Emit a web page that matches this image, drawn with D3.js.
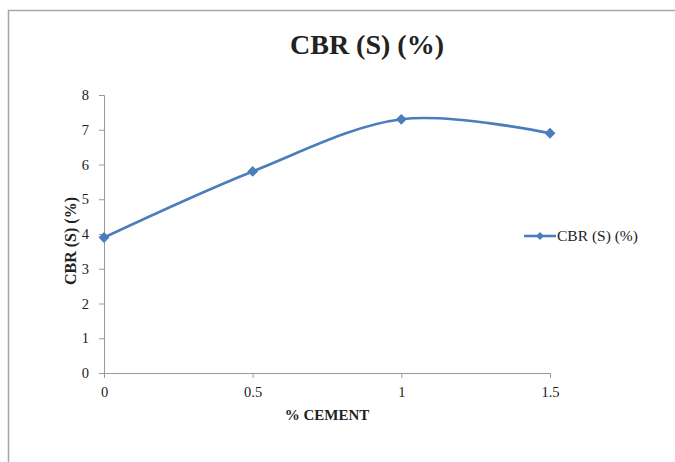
<!DOCTYPE html>
<html>
<head>
<meta charset="utf-8">
<script src="https://cdn.jsdelivr.net/npm/d3@7"></script>
<style>
  html, body { margin: 0; padding: 0; background: #fff; }
  svg { display: block; }
  svg text { font-family: "Liberation Serif", "Times New Roman", serif !important; fill: #222; }
</style>
</head>
<body>
<svg id="chart" width="675" height="462"></svg>
<script>
// Cement content (%) and soaked CBR values (%)
const cementPct = [0, 0.5, 1, 1.5];
const cbrValues = [3.9, 5.8, 7.3, 6.9];
const xTicks = [0, 0.5, 1, 1.5];
const yTicks = [0, 1, 2, 3, 4, 5, 6, 7, 8];
const seriesName = "CBR (S) (%)";
const chartTitle = "CBR (S) (%)";
const xTitle = "% CEMENT";
const yTitle = "CBR (S) (%)";

const data = cementPct.map((c, i) => ({ x: c, y: cbrValues[i] }));
const blue = "#4a7ebb";

const svg = d3.select("#chart");

// outer chart frame
svg.append("rect")
  .attr("x", 8.5).attr("y", 10.5)
  .attr("width", 680).attr("height", 470)
  .attr("fill", "#fff")
  .attr("stroke", "#a6a6a6").attr("stroke-width", 1.5);

const plot = { left: 104, right: 550, top: 95, bottom: 373 };

const x = d3.scaleLinear().domain([0, 1.5]).range([plot.left, plot.right]);
const y = d3.scaleLinear().domain([0, 8]).range([plot.bottom, plot.top]);

// x axis
const xAxis = svg.append("g")
  .attr("transform", `translate(0,${plot.bottom})`)
  .call(d3.axisBottom(x).tickValues(xTicks).tickFormat(d3.format("")).tickSize(5).tickPadding(9));
xAxis.select(".domain").attr("stroke", "#9a9a9a");
xAxis.selectAll(".tick line").attr("stroke", "#9a9a9a");
xAxis.selectAll(".tick text").attr("font-size", 14.5).attr("fill", "#222");

// y axis
const yAxis = svg.append("g")
  .attr("transform", `translate(${plot.left},0)`)
  .call(d3.axisLeft(y).tickValues(yTicks).tickFormat(d3.format("d")).tickSize(5).tickPadding(10));
yAxis.select(".domain").attr("stroke", "#9a9a9a");
yAxis.selectAll(".tick line").attr("stroke", "#9a9a9a");
yAxis.selectAll(".tick text").attr("font-size", 14.5).attr("fill", "#222");

// smoothed series line
const line = d3.line()
  .x(d => x(d.x))
  .y(d => y(d.y))
  .curve(d3.curveCardinal.tension(0));

svg.append("path")
  .datum(data)
  .attr("d", line)
  .attr("fill", "none")
  .attr("stroke", blue)
  .attr("stroke-width", 2.6);

// diamond markers
const diamond = d3.symbol().type(d3.symbolDiamond2).size(75);
svg.selectAll(".marker")
  .data(data)
  .join("path")
  .attr("class", "marker")
  .attr("transform", d => `translate(${x(d.x)},${y(d.y)})`)
  .attr("d", diamond)
  .attr("fill", blue);

// title
svg.append("text")
  .attr("x", 367).attr("y", 54)
  .attr("text-anchor", "middle")
  .attr("font-size", 28).attr("font-weight", "bold")
  .text(chartTitle);

// axis titles
svg.append("text")
  .attr("x", 327).attr("y", 420)
  .attr("text-anchor", "middle")
  .attr("font-size", 15).attr("font-weight", "bold")
  .text(xTitle);

svg.append("text")
  .attr("transform", `translate(76,${(plot.top + plot.bottom) / 2 + 7}) rotate(-90)`)
  .attr("text-anchor", "middle")
  .attr("font-size", 16).attr("font-weight", "bold")
  .text(yTitle);

// legend
const legend = svg.append("g").attr("transform", "translate(524,236)");
legend.append("line")
  .attr("x1", 0).attr("x2", 32).attr("y1", 0).attr("y2", 0)
  .attr("stroke", blue).attr("stroke-width", 2.6);
legend.append("path")
  .attr("transform", "translate(16,0)")
  .attr("d", d3.symbol().type(d3.symbolDiamond2).size(40))
  .attr("fill", blue);
legend.append("text")
  .attr("x", 33).attr("y", 5)
  .attr("font-size", 15.5)
  .text(seriesName);
</script>
</body>
</html>
